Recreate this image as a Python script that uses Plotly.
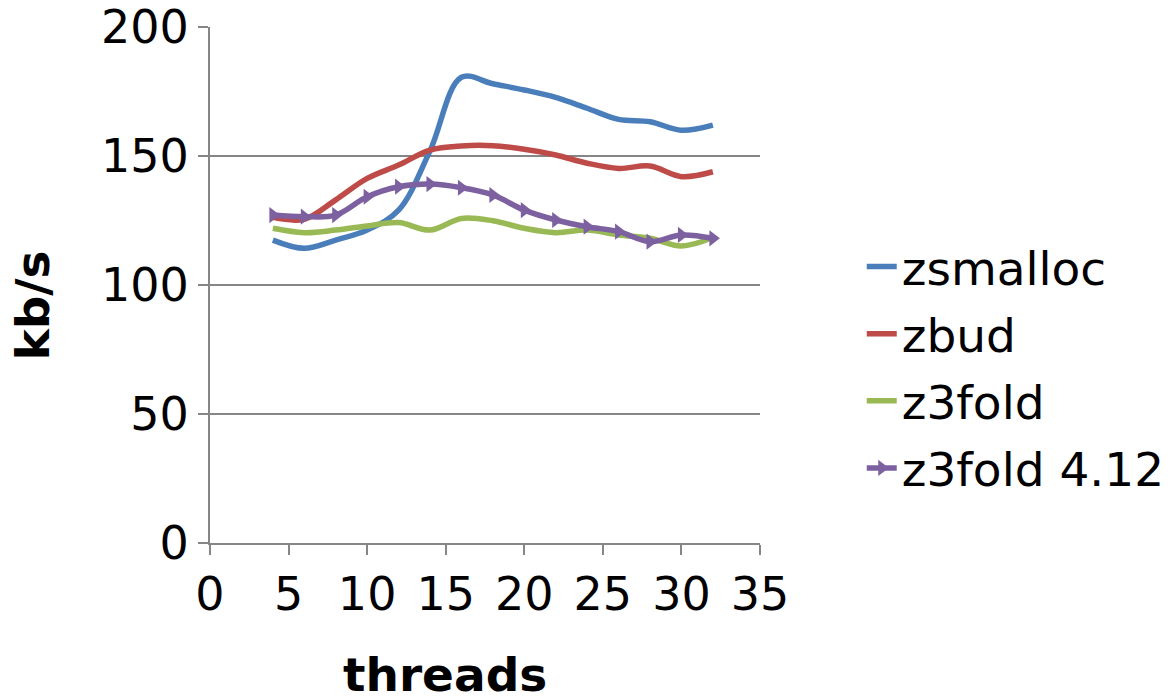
import plotly.graph_objects as go

# Benchmark results: throughput (kb/s) by number of threads
threads = [4, 6, 8, 10, 12, 14, 16, 18, 20, 22, 24, 26, 28, 30, 32]
zsmalloc = [117.4, 114.2, 117.4, 121.3, 129.0, 152.0, 180.5, 178.0, 175.6, 172.7, 168.5, 164.2, 163.3, 160.0, 162.0]
zbud = [126.2, 125.5, 133.0, 141.3, 146.5, 152.3, 153.9, 154.0, 152.6, 150.4, 147.2, 145.2, 146.1, 142.0, 143.9]
z3fold = [122.0, 120.3, 121.3, 122.9, 124.2, 121.3, 125.8, 124.9, 122.0, 120.3, 121.3, 119.4, 118.1, 115.1, 118.4]
z3fold_412 = [127.1, 126.5, 127.1, 134.2, 138.1, 139.1, 137.7, 134.9, 129.0, 125.2, 122.6, 120.7, 116.8, 119.4, 118.1]

series = [
    ("zsmalloc", zsmalloc, "#4A7EBB", False),
    ("zbud", zbud, "#BE4B48", False),
    ("z3fold", z3fold, "#98B954", False),
    ("z3fold 4.12", z3fold_412, "#7D60A0", True),
]

FONT = "DejaVu Sans"
GRID = "#868686"
SIZE = 47
TICK_SIZE = 46

fig = go.Figure()
for name, vals, color, with_markers in series:
    fig.add_trace(go.Scatter(
        x=threads, y=vals, name=name, legendgroup=name,
        mode="lines+markers" if with_markers else "lines",
        line=dict(color=color, width=5.5, shape="spline", smoothing=1.0),
        marker=dict(symbol="triangle-right", size=14, color=color),
    ))

fig.update_layout(
    width=1170, height=699,
    margin=dict(l=210, r=410, t=27, b=156, autoexpand=False),
    paper_bgcolor="white", plot_bgcolor="white",
    font=dict(family=FONT, size=SIZE, color="black"),
    showlegend=True,
    legend=dict(
        x=1.185, y=0.34, xanchor="left", yanchor="middle",
        font=dict(family=FONT, size=SIZE, color="black"),
        bgcolor="rgba(0,0,0,0)", itemsizing="trace", tracegroupgap=3,
    ),
    xaxis=dict(
        range=[0, 35], dtick=5, tick0=0, showgrid=False, zeroline=False,
        showline=True, linecolor=GRID, linewidth=2,
        ticks="outside", ticklen=10, tickwidth=2, tickcolor=GRID,
        tickfont=dict(family=FONT, size=TICK_SIZE),
    ),
    yaxis=dict(
        range=[0, 200], dtick=50, tick0=0, showgrid=True, gridcolor=GRID, gridwidth=1.5,
        zeroline=False, showline=True, linecolor=GRID, linewidth=2,
        ticks="outside", ticklen=10, tickwidth=2, tickcolor=GRID,
        tickfont=dict(family=FONT, size=TICK_SIZE), ticklabelstandoff=0,
    ),
    annotations=[
        dict(text="<b>threads</b>", xref="paper", yref="paper", x=0.427, y=-0.254,
             xanchor="center", yanchor="middle", showarrow=False, height=42,
             font=dict(family=FONT, size=SIZE, color="black")),
        dict(text="<b>kb/s</b>", xref="paper", yref="paper", x=-0.322, y=0.46,
             xanchor="center", yanchor="middle", showarrow=False, textangle=-90,
             font=dict(family=FONT, size=SIZE, color="black")),
    ],
)

fig.write_html("out.html")
